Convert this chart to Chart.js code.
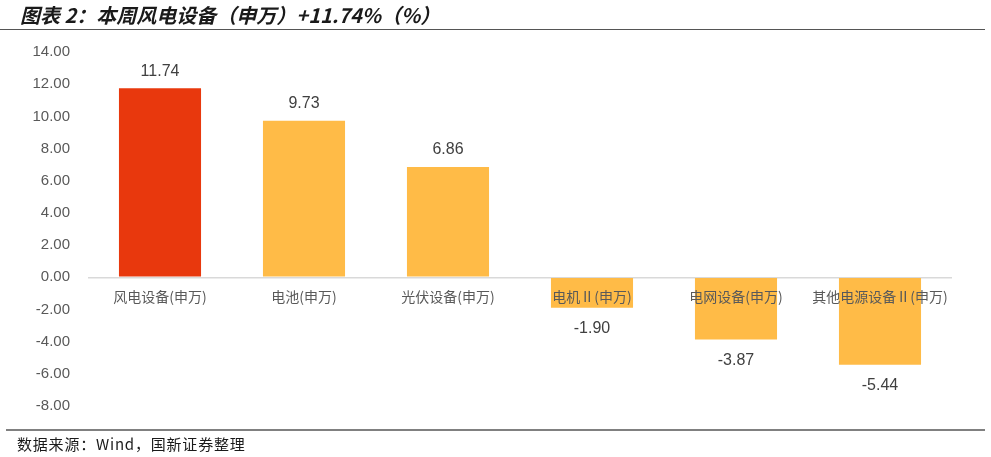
<!DOCTYPE html>
<html>
<head>
<meta charset="utf-8">
<script src="https://cdn.jsdelivr.net/npm/chart.js@4.4.1/dist/chart.umd.min.js"></script>
<style>
  html, body { margin: 0; padding: 0; background: #fff; }
  #page { position: relative; width: 991px; height: 457px; overflow: hidden; }
  #title {
    position: absolute; left: 20px; top: 0px; line-height: 30px;
    font: italic bold 20px "Noto Sans CJK SC", sans-serif; color: #1a1a1a;
    white-space: nowrap;
  }
  #topLine { position: absolute; left: 0; top: 29px; width: 985px; height: 1px; background: #555; }
  #bottomLine { position: absolute; left: 6px; top: 429px; width: 979px; height: 2px; background: #808080; }
  #source {
    position: absolute; left: 17px; top: 433px; line-height: 20px;
    font: 15px "Noto Sans CJK SC", sans-serif; letter-spacing: 0.8px; color: #1a1a1a; white-space: nowrap;
  }
  #wrap { position: absolute; left: 0; top: 0; width: 991px; height: 457px; }
</style>
</head>
<body>
<div id="page">
  <div id="wrap"><canvas id="barChart"></canvas></div>
  <div id="title">图表 2：本周风电设备（申万）+11.74%（%）</div>
  <div id="topLine"></div>
  <div id="bottomLine"></div>
  <div id="source">数据来源：Wind，国新证券整理</div>
</div>
<script>
// data
var categories = ['风电设备(申万)', '电池(申万)', '光伏设备(申万)', '电机Ⅱ(申万)', '电网设备(申万)', '其他电源设备Ⅱ(申万)'];
var weeklyChange = [11.74, 9.73, 6.86, -1.90, -3.87, -5.44];
var barColors = ['#E8380D', '#FFBB47', '#FFBB47', '#FFBB47', '#FFBB47', '#FFBB47'];
var yMin = -8;
var yMax = 14;
var yStep = 2;

// value labels above / below each bar
var valueLabels = {
    id: 'valueLabels',
    afterDatasetsDraw: function (chart) {
        var c = chart.ctx;
        var meta = chart.getDatasetMeta(0);
        c.save();
        c.font = '16px "Liberation Sans", Arial, sans-serif';
        c.fillStyle = '#404040';
        c.textAlign = 'center';
        c.textBaseline = 'middle';
        meta.data.forEach(function (bar, i) {
            var v = weeklyChange[i];
            var y = v >= 0 ? bar.y - 17 : bar.y + 21;
            c.fillText(v.toFixed(2), bar.x, y);
        });
        c.restore();
    }
};

const ctx = document.getElementById('barChart').getContext('2d');
const barChart = new Chart(ctx, {
    type: 'bar',
    data: {
        labels: categories,
        datasets: [{
            data: weeklyChange,
            backgroundColor: barColors,
            borderWidth: 0,
            categoryPercentage: 0.57,
            barPercentage: 1
        }]
    },
    options: {
        responsive: true,
        maintainAspectRatio: false,
        animation: false,
        layout: { padding: { top: 52, bottom: 51, left: 0, right: 39 } },
        plugins: {
            legend: { display: false },
            tooltip: { enabled: false }
        },
        scales: {
            x: {
                position: { y: 0 },
                grid: { display: false },
                border: { display: false },
                ticks: {
                    z: 1,
                    color: '#595959',
                    font: { size: 14, family: '"Noto Sans CJK SC", sans-serif' },
                    padding: 3,
                    maxRotation: 0,
                    autoSkip: false
                }
            },
            y: {
                min: yMin,
                max: yMax,
                border: { display: false },
                grid: {
                    drawTicks: false,
                    color: function (c) { return c.tick && c.tick.value === 0 ? '#D9D9D9' : 'rgba(0,0,0,0)'; },
                    lineWidth: 1.5
                },
                ticks: {
                    stepSize: yStep,
                    color: '#595959',
                    font: { size: 15, family: '"Liberation Sans", Arial, sans-serif' },
                    padding: 18,
                    callback: function (v) { return v.toFixed(2); }
                },
                afterFit: function (scale) { scale.width = 88; }
            }
        }
    },
    plugins: [valueLabels]
});
</script>
</body>
</html>
